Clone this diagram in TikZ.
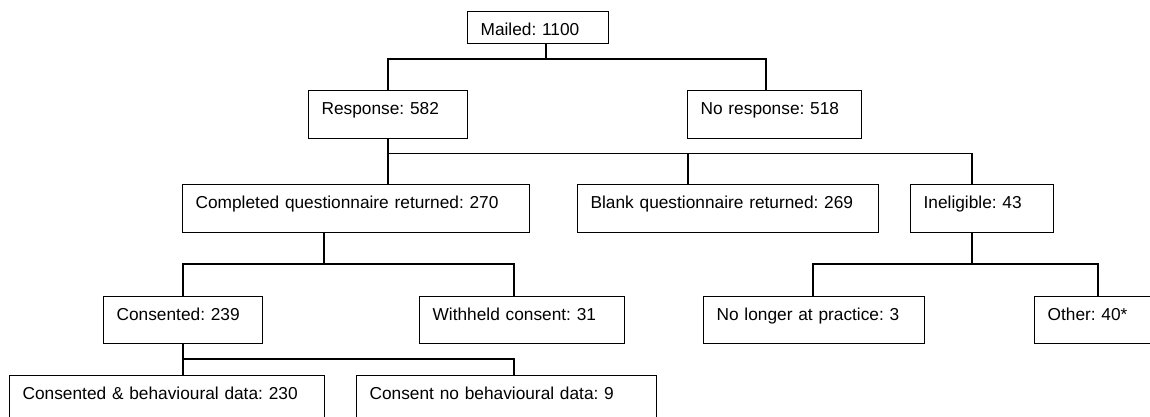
\documentclass[tikz,border=0pt]{standalone}
\usepackage{fontspec}
\setmainfont{Liberation Sans}
\usepackage{tikz}
\frenchspacing

\begin{document}
\begin{tikzpicture}[
x=1pt,y=-1pt,
line width=1.2pt,
box/.style 2 args={
draw,
anchor=north west,
inner xsep=13pt,
inner ysep=0pt,
align=left,
text width=#1-26pt,
text height=24pt,
text depth=#2-24pt,
font=\fontsize{17.3}{20}\selectfont
}
]

\useasboundingbox (0,0) rectangle (1150,417);
\clip (0,0) rectangle (1150,417);

\node[box={141pt}{32pt}] (mailed) at (467,11) {Mailed: 1100};

\node[box={159pt}{48pt}] (resp) at (308,90) {Response: 582};
\node[box={174pt}{48pt}] (nores) at (687,90) {No response: 518};

\node[box={347pt}{48pt}] (compl) at (182,184) {Completed questionnaire returned: 270};
\node[box={301pt}{48pt}] (blank) at (577,184) {Blank questionnaire returned: 269};
\node[box={143pt}{48pt}] (inelig) at (910,184) {Ineligible: 43};

\node[box={159pt}{47pt}] (consent) at (103,296) {Consented: 239};
\node[box={205pt}{47pt}] (withheld) at (419,296) {Withheld consent: 31};
\node[box={221pt}{47pt}] (nolonger) at (703,296) {No longer at practice: 3};
\node[box={130pt}{47pt}] (other) at (1034,296) {Other: 40*};

\node[box={315pt}{50pt}] (consbeh) at (9,375) {Consented \& behavioural data: 230};
\node[box={300pt}{50pt}] (consno) at (356,375) {Consent no behavioural data: 9};

\coordinate (a0) at (546,59);
\coordinate (a1) at (388,59);
\coordinate (a2) at (766,59);
\draw (mailed.south -| a0) -- (a0);
\draw (resp.north -| a1) -- (a1) -- (a2) -- (nores.north -| a2);

\coordinate (b1) at (388,153.5);
\coordinate (b2) at (688,153.5);
\coordinate (b3) at (972,153.5);
\draw (resp.south -| b1) -- (compl.north -| b1);
\draw (b1) -- (b3) -- (inelig.north -| b3);
\draw (b2) -- (blank.north -| b2);

\coordinate (c0) at (324,264);
\coordinate (c1) at (183,264);
\coordinate (c2) at (514,264);
\draw (compl.south -| c0) -- (c0);
\draw (consent.north -| c1) -- (c1) -- (c2) -- (withheld.north -| c2);

\coordinate (d0) at (972,264);
\coordinate (d1) at (813,264);
\coordinate (d2) at (1098,264);
\draw (inelig.south -| d0) -- (d0);
\draw (nolonger.north -| d1) -- (d1) -- (d2) -- (other.north -| d2);

\coordinate (e1) at (183,359);
\coordinate (e2) at (514,359);
\draw (consent.south -| e1) -- (consbeh.north -| e1);
\draw (e1) -- (e2) -- (consno.north -| e2);

\end{tikzpicture}
\end{document}
